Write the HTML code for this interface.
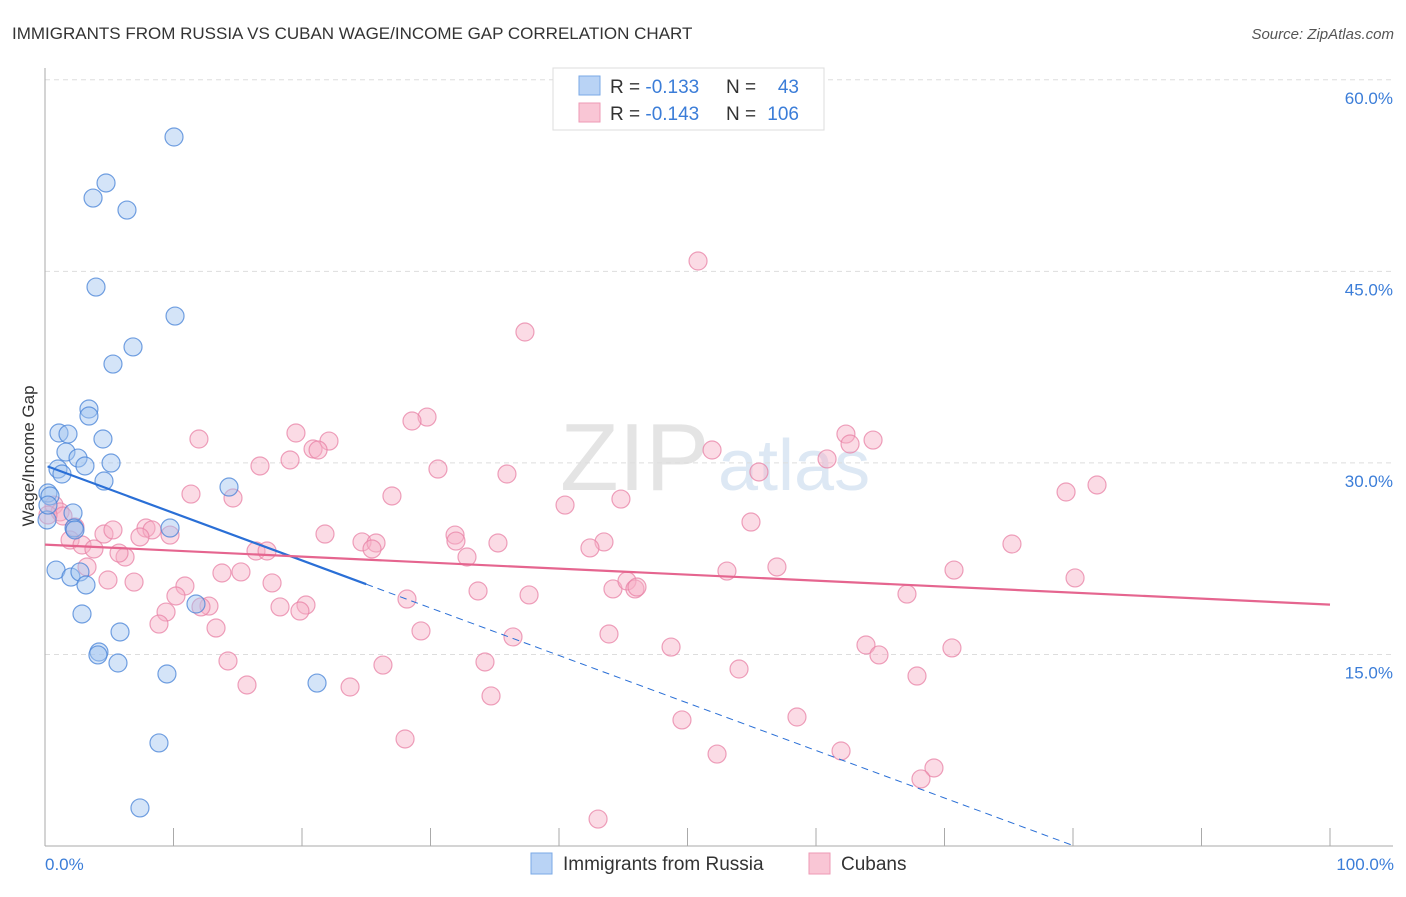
<!DOCTYPE html>
<html><head><meta charset="utf-8"><style>
body{margin:0;background:#fff;font-family:"Liberation Sans",sans-serif;}
svg text{font-family:"Liberation Sans",sans-serif;}
</style></head><body>
<svg width="1406" height="892" xmlns="http://www.w3.org/2000/svg">
<text x="12" y="39" font-size="17" fill="#333">IMMIGRANTS FROM RUSSIA VS CUBAN WAGE/INCOME GAP CORRELATION CHART</text>
<text x="1394" y="39" font-size="15" fill="#555" font-style="italic" text-anchor="end">Source: ZipAtlas.com</text>
<text x="560" y="490" font-size="96" fill="#e4e4e4" font-family="Liberation Serif">ZIP</text>
<text x="718" y="490" font-size="72" fill="#dde8f4">atlas</text>
<g id="grid"></g>
<g id="axes"></g>
<g id="pts"></g>
<g id="lines"></g>
<text transform="translate(34,456) rotate(-90)" font-size="17" fill="#333" text-anchor="middle">Wage/Income Gap</text>
<text x="45" y="870" font-size="17" fill="#3b7dd8">0.0%</text>
<text x="1394" y="870" font-size="17" fill="#3b7dd8" text-anchor="end">100.0%</text>
<g>
<rect x="553" y="68" width="271" height="62" fill="#fff" stroke="#ddd"/>
<rect x="579" y="76" width="21" height="19" fill="#b9d3f5" stroke="#7aa8e6"/>
<rect x="579" y="103" width="21" height="19" fill="#f9c6d5" stroke="#ee9ab5"/>
<text x="610" y="93" font-size="19" fill="#333">R = <tspan fill="#3b7dd8">-0.133</tspan></text>
<text x="726" y="93" font-size="19" fill="#333">N = </text><text x="799" y="93" font-size="19" fill="#3b7dd8" text-anchor="end">43</text>
<text x="610" y="120" font-size="19" fill="#333">R = <tspan fill="#3b7dd8">-0.143</tspan></text>
<text x="726" y="120" font-size="19" fill="#333">N = </text><text x="799" y="120" font-size="19" fill="#3b7dd8" text-anchor="end">106</text>
</g>
<g>
<rect x="531" y="853" width="21" height="21" fill="#b9d3f5" stroke="#7aa8e6"/>
<text x="563" y="870" font-size="19" fill="#333">Immigrants from Russia</text>
<rect x="809" y="853" width="21" height="21" fill="#f9c6d5" stroke="#ee9ab5"/>
<text x="841" y="870" font-size="19" fill="#333">Cubans</text>
</g>
</svg>
<script>
const yTicks=[15,30,45,60];
const xTicks=[0,10,20,30,40,50,60,70,80,90,100];
const bluePx=[[174,137],[106,183],[93,198],[127,210],[96,287],[175,316],[133,347],[113,364],[89,409],[89,416],[59,433],[68,434],[103,439],[66,452],[78,458],[58,469],[62,474],[85,466],[111,463],[104,481],[229,487],[48,493],[50,496],[47,520],[73,513],[74,528],[75,530],[56,570],[71,577],[80,572],[86,585],[82,614],[120,632],[99,652],[98,655],[118,663],[167,674],[317,683],[159,743],[140,808],[196,604],[170,528],[48,505]];
const pinkPx=[[698,261],[525,332],[427,417],[412,421],[199,439],[296,433],[329,441],[313,449],[318,450],[846,434],[873,440],[850,444],[712,450],[827,459],[290,460],[260,466],[438,469],[507,474],[759,472],[1097,485],[1066,492],[191,494],[233,498],[392,496],[565,505],[621,499],[54,505],[60,512],[63,516],[48,515],[75,527],[751,522],[170,535],[146,528],[152,530],[325,534],[455,535],[104,534],[113,530],[140,537],[70,540],[82,545],[94,549],[125,557],[119,553],[362,542],[376,543],[372,549],[456,541],[498,543],[604,542],[590,548],[467,557],[256,551],[267,551],[1012,544],[222,573],[241,572],[954,570],[1075,578],[727,571],[777,567],[87,567],[108,580],[134,582],[185,586],[272,583],[613,589],[627,581],[635,589],[637,587],[478,591],[529,595],[407,599],[176,596],[166,612],[209,606],[201,607],[280,607],[306,605],[300,611],[907,594],[159,624],[216,628],[421,631],[513,637],[609,634],[671,647],[866,645],[879,655],[952,648],[228,661],[383,665],[485,662],[739,669],[917,676],[247,685],[350,687],[491,696],[682,720],[797,717],[405,739],[717,754],[841,751],[934,768],[921,779],[598,819]];
// convert picture estimates into data values (x %, y %)
const russiaX=bluePx.map(p=>+((p[0]-45)/12.85).toFixed(2));
const russiaY=bluePx.map(p=>+((846-p[1])/12.77).toFixed(2));
const cubansX=pinkPx.map(p=>+((p[0]-45)/12.85).toFixed(2));
const cubansY=pinkPx.map(p=>+((846-p[1])/12.77).toFixed(2));
const russiaTrend=[29.8,-0.372];
const russiaSolidEnd=25;
const cubansTrend=[23.6,-0.047];

const X=v=>45+v*12.85, Y=v=>846-v*12.77;
const NS="http://www.w3.org/2000/svg";
function mk(tag,attrs,parent){const e=document.createElementNS(NS,tag);for(const k in attrs)e.setAttribute(k,attrs[k]);document.getElementById(parent).appendChild(e);return e;}
yTicks.forEach(t=>{
 const l=mk('line',{x1:45,x2:1393,y1:Y(t),y2:Y(t),stroke:'#ddd','stroke-dasharray':'5,4'},'grid');
 
 
 const tx=mk('text',{x:1393,y:Y(t)+24,'font-size':17,fill:'#3b7dd8','text-anchor':'end'},'grid');
 tx.textContent=t.toFixed(1)+'%';
 
 
});
const ya=mk('line',{x1:45,x2:45,y1:68,y2:846,stroke:'#aaa'},'axes');


const xa=mk('line',{x1:45,x2:1393,y1:846,y2:846,stroke:'#aaa'},'axes');


xTicks.forEach(t=>{
 const l=mk('line',{x1:X(t),x2:X(t),y1:828,y2:846,stroke:'#aaa'},'axes');
 
 
});
cubansX.forEach((x,i)=>{
 const c=mk('circle',{cx:X(x),cy:Y(cubansY[i]),r:9,fill:'rgba(246,176,198,0.45)',stroke:'rgba(232,130,165,0.75)','stroke-width':1.2},'pts');
 
 
});
russiaX.forEach((x,i)=>{
 const c=mk('circle',{cx:X(x),cy:Y(russiaY[i]),r:9,fill:'rgba(160,195,240,0.45)',stroke:'rgba(70,130,215,0.75)','stroke-width':1.2},'pts');
 
 
});
const rf=x=>russiaTrend[0]+russiaTrend[1]*x;
const b1=mk('line',{x1:X(0.2),y1:Y(rf(0.2)),x2:X(russiaSolidEnd),y2:Y(rf(russiaSolidEnd)),stroke:'#2a6fd6','stroke-width':2.2},'lines');


const xe=-russiaTrend[0]/russiaTrend[1];
const b2=mk('line',{x1:X(russiaSolidEnd),y1:Y(rf(russiaSolidEnd)),x2:X(xe),y2:Y(0),stroke:'#2a6fd6','stroke-width':1,'stroke-dasharray':'7,5'},'lines');


const cf=x=>cubansTrend[0]+cubansTrend[1]*x;
const p1=mk('line',{x1:X(0),y1:Y(cf(0)),x2:X(100),y2:Y(cf(100)),stroke:'#e5658f','stroke-width':2.2},'lines');


</script>
</body></html>
